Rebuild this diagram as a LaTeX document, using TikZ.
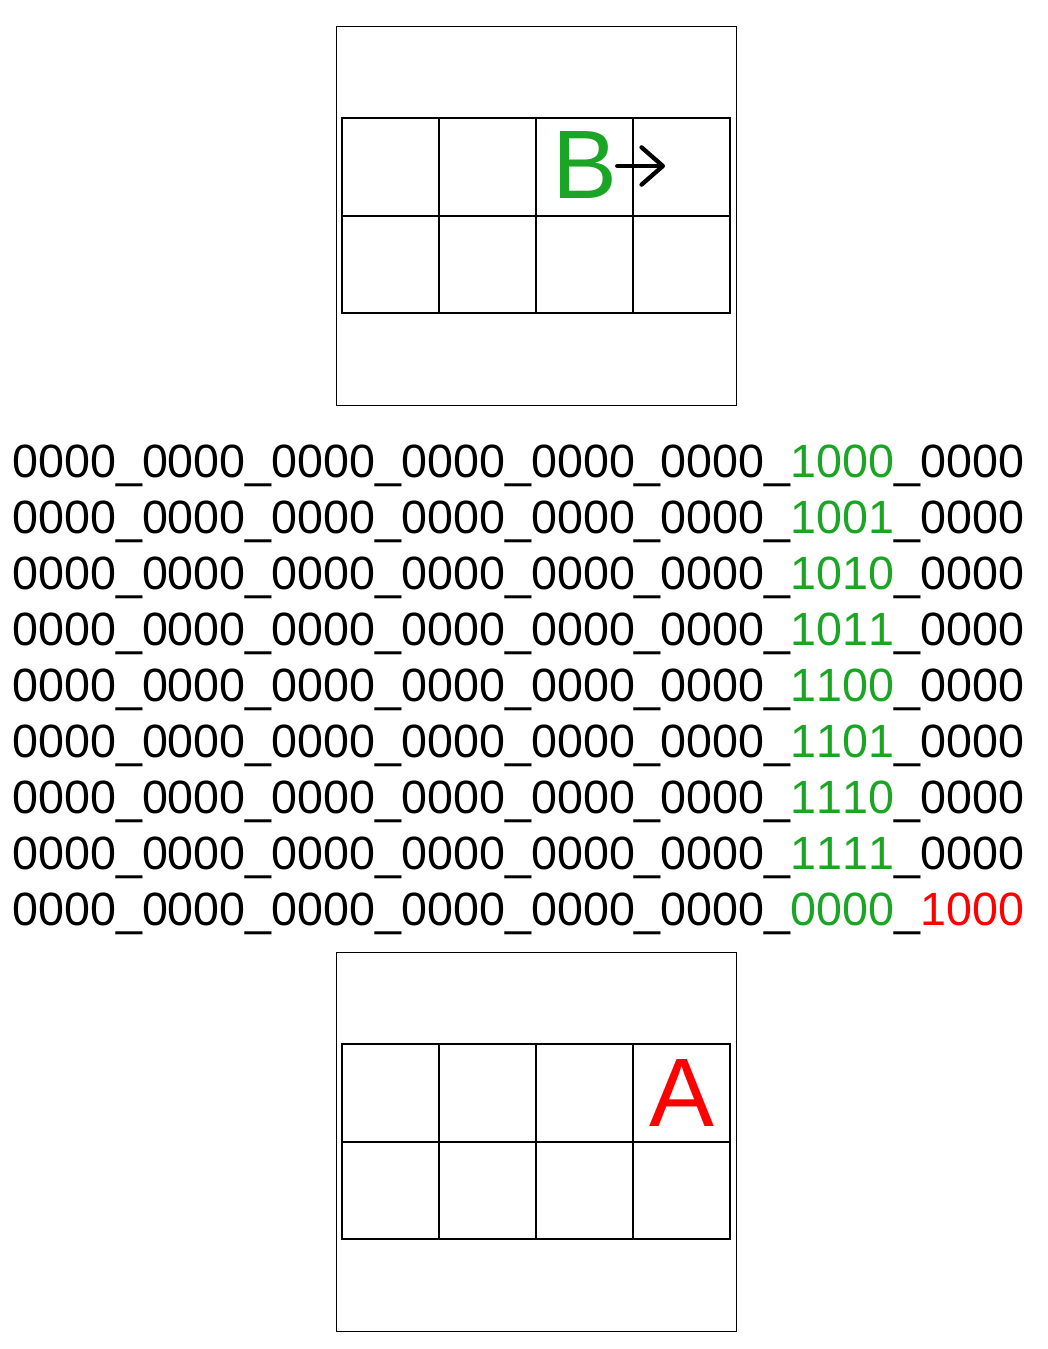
\documentclass[tikz,border=0pt]{standalone}
\usepackage{fontspec}
\setmainfont[Kerning=Off]{Liberation Sans}
\usetikzlibrary{matrix, positioning, arrows.meta}

\definecolor{bitgreen}{RGB}{26,166,36}
\newcommand{\zeros}{0000\_0000\_0000\_0000\_0000\_0000\_}

\begin{document}
\begin{tikzpicture}[
    x=0.75pt, y=-0.75pt,
    frame/.style={draw, line width=0.75pt, minimum width=300pt, minimum height=284.25pt, inner sep=0pt},
    grid-arr/.style={matrix of nodes, nodes in empty cells, row sep=-1.5pt, column sep=-1.5pt,
      nodes={draw, line width=1.5pt, minimum size=72.8pt, inner sep=0pt}},
    letter/.style={inner sep=0pt, font=\fontsize{73}{73}\selectfont},
    bits/.style={anchor=base west, inner sep=0pt, font=\fontsize{35}{42}\selectfont}
  ]
  \useasboundingbox (0,0) rectangle (1048,1349);

  % board before the shift
  \node[frame] (top) at (536,215.5) {};
  \matrix (cur) [grid-arr] at (536,215.5) {
    & & & \\
    & & & \\
  };
  \node[letter, text=bitgreen, yshift=1.5pt] (bee) at (cur-1-3) {B};
  \coordinate (beeTip) at (665,166);
  \draw[line width=3.2pt, line cap=round, -{Straight Barb[round, length=16pt, width=28pt]}] (bee.east |- beeTip) -- (beeTip);

  % the counter bits
  \foreach \val [count=\k] in {1000,1001,1010,1011,1100,1101,1110,1111} {
      \node[bits] (bits\k) at (12, 421+56*\k) {\zeros\textcolor{bitgreen}{\val}\_0000};
    }
  \node[bits] (bits9) at (12,925) {\zeros\textcolor{bitgreen}{0000}\_\textcolor{red}{1000}};

  % board after the shift
  \node[frame] (bot) at (536,1141.5) {};
  \matrix (nxt) [grid-arr] at (536,1141.5) {
    & & & \\
    & & & \\
  };
  \node[letter, text=red] (ay) at (nxt-1-4) {A};

\end{tikzpicture}
\end{document}
